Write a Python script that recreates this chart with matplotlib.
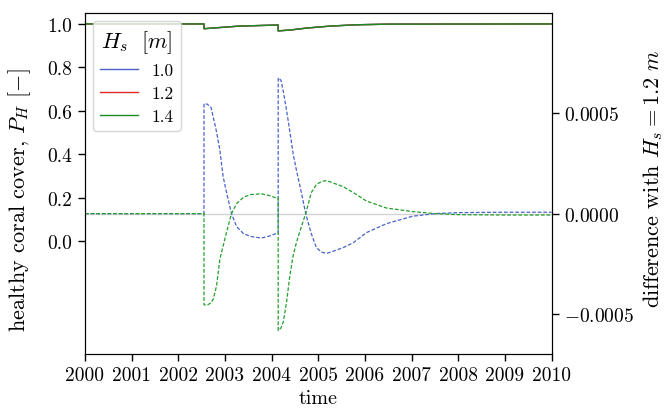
import matplotlib
matplotlib.use('Agg')
import matplotlib.pyplot as plt

plt.rcParams['font.family'] = 'serif'
plt.rcParams['font.serif'] = ['cmr10', 'DejaVu Serif']
plt.rcParams['mathtext.fontset'] = 'cm'
plt.rcParams['axes.formatter.use_mathtext'] = True
plt.rcParams['font.size'] = 14

# wave heights shown in the legend
wave_heights = ['1.0', '1.2', '1.4']

# healthy coral cover P_H (identical for the three runs at this scale)
cover_years = [2000.0, 2002.55, 2002.551, 2002.8, 2003.3, 2003.8, 2004.14, 2004.141,
               2004.4, 2004.75, 2005.25, 2005.8, 2006.5, 2010.0]
cover = [1.0, 1.0, 0.978, 0.982, 0.99, 0.993, 0.995, 0.968,
         0.972, 0.981, 0.99, 0.996, 0.999, 1.0]

# difference with H_s = 1.2 m
diff_years = [2000.0, 2002.55, 2002.551, 2002.62, 2002.70, 2002.75, 2002.82, 2002.89,
              2002.96, 2003.03, 2003.14, 2003.25, 2003.40, 2003.55, 2003.78, 2003.95,
              2004.10, 2004.14, 2004.141, 2004.20, 2004.25, 2004.32, 2004.39, 2004.46,
              2004.53, 2004.64, 2004.73, 2004.85, 2004.96, 2005.07, 2005.18, 2005.35,
              2005.53, 2005.75, 2006.03, 2006.46, 2007.02, 2007.5, 2008.0, 2009.0, 2010.0]
diff_10 = [0.0, 0.0, 5.48e-4, 5.46e-4, 5.3e-4, 4.8e-4, 4.07e-4, 3.17e-4,
           1.85e-4, 1.1e-4, 0.0, -0.65e-4, -1.0e-4, -1.14e-4, -1.22e-4, -1.12e-4,
           -0.99e-4, -0.98e-4, 6.77e-4, 6.65e-4, 6.1e-4, 5.15e-4, 4.1e-4, 3.0e-4,
           2.18e-4, 1.02e-4, 0.0, -1.0e-4, -1.7e-4, -1.92e-4, -1.98e-4, -1.85e-4,
           -1.7e-4, -1.45e-4, -0.95e-4, -0.5e-4, -0.13e-4, 0.0, 0.05e-4, 0.07e-4, 0.07e-4]
diff_14 = [0.0, 0.0, -4.55e-4, -4.56e-4, -4.45e-4, -4.26e-4, -3.6e-4, -2.28e-4,
           -1.62e-4, -0.96e-4, 0.0, 0.5e-4, 0.82e-4, 0.95e-4, 0.99e-4, 0.9e-4,
           0.78e-4, 0.77e-4, -5.83e-4, -5.7e-4, -5.41e-4, -4.42e-4, -3.1e-4, -2.11e-4,
           -1.45e-4, -0.63e-4, 0.0, 1.05e-4, 1.45e-4, 1.6e-4, 1.65e-4, 1.5e-4,
           1.35e-4, 1.05e-4, 0.63e-4, 0.28e-4, 0.1e-4, 0.0, -0.05e-4, -0.07e-4, -0.07e-4]

year_ticks = list(range(2000, 2011))
colors = ['#4862cc', '#e02828', '#1a8a22']

fig = plt.figure(figsize=(6.67, 4.14), dpi=100)
ax = fig.add_axes([0.1274, 0.1425, 0.6996, 0.8235])
ax2 = ax.twinx()

for label, c in zip(wave_heights, colors):
    ax.plot(cover_years, cover, color=c, lw=1.0, label=label)

ax2.axhline(0, color='lightgray', lw=1.0)
ax2.plot(diff_years, diff_10, color=colors[0], lw=0.9, ls='--', dashes=(3, 1.5))
ax2.plot(diff_years, diff_14, color='#22a02a', lw=0.9, ls='--', dashes=(3, 1.5))

ax.set_xlim(2000, 2010)
ax.set_xticks(year_ticks)
ax.set_xticklabels([str(y) for y in year_ticks])
ax.set_ylim(-0.52, 1.05)
ax.set_yticks([0.0, 0.2, 0.4, 0.6, 0.8, 1.0])
ax.set_yticklabels(['0.0', '0.2', '0.4', '0.6', '0.8', '1.0'])
ax2.set_ylim(-0.0007, 0.001)
ax2.set_yticks([-0.0005, 0.0, 0.0005])

for a in (ax, ax2):
    a.tick_params(length=5, width=1.0, pad=4)

ax.set_xlabel('time', fontsize=14.5, labelpad=3)
ax.set_ylabel(r'healthy coral cover, $P_H$ $[-]$', fontsize=16)
ax.yaxis.set_label_coords(-0.112, 0.455)
ax2.set_ylabel(r'difference with $H_s = 1.2\ m$', fontsize=16)
ax2.yaxis.set_label_coords(1.193, 0.516)

leg = ax.legend(title=r'$H_s\ \ [m]$', loc='upper left', fontsize=12.5,
                title_fontsize=16, labelspacing=0.45, handlelength=2.2,
                borderaxespad=0.45)

fig.savefig('out.png', dpi=100)
